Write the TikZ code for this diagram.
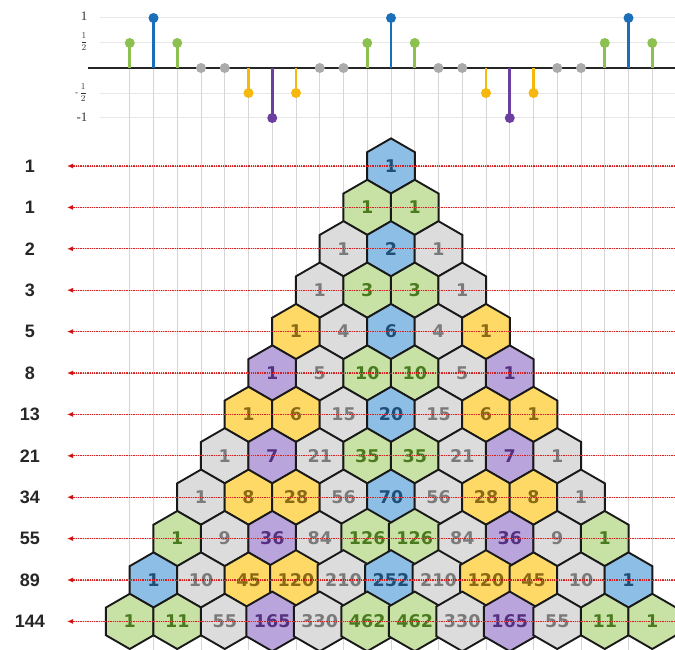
\documentclass[tikz,border=0pt]{standalone}
\usepackage{fontspec}
\setmainfont{Liberation Sans}
\newfontfamily\hexfont{DejaVu Sans}
\newfontfamily\tickfont{Liberation Serif}
\usetikzlibrary{shapes.geometric,arrows.meta}
% hex fills / texts / stem colours by index (j mod 10)
\definecolor{hf0}{HTML}{8CBEE6}\definecolor{ht0}{HTML}{1F4E79}\definecolor{sc0}{HTML}{1B6FB8}
\definecolor{hf1}{HTML}{C8E1A5}\definecolor{ht1}{HTML}{4A7A1E}\definecolor{sc1}{HTML}{8CC152}
\definecolor{hf2}{HTML}{DCDCDC}\definecolor{ht2}{HTML}{7A7A7A}\definecolor{sc2}{HTML}{ABABAB}
\definecolor{hf3}{HTML}{DCDCDC}\definecolor{ht3}{HTML}{7A7A7A}\definecolor{sc3}{HTML}{ABABAB}
\definecolor{hf4}{HTML}{FFD966}\definecolor{ht4}{HTML}{8A6A14}\definecolor{sc4}{HTML}{F6B80C}
\definecolor{hf5}{HTML}{B9A5DC}\definecolor{ht5}{HTML}{553080}\definecolor{sc5}{HTML}{6A3FA0}
\definecolor{hf6}{HTML}{FFD966}\definecolor{ht6}{HTML}{8A6A14}\definecolor{sc6}{HTML}{F6B80C}
\definecolor{hf7}{HTML}{DCDCDC}\definecolor{ht7}{HTML}{7A7A7A}\definecolor{sc7}{HTML}{ABABAB}
\definecolor{hf8}{HTML}{DCDCDC}\definecolor{ht8}{HTML}{7A7A7A}\definecolor{sc8}{HTML}{ABABAB}
\definecolor{hf9}{HTML}{C8E1A5}\definecolor{ht9}{HTML}{4A7A1E}\definecolor{sc9}{HTML}{8CC152}
\begin{document}
\begin{tikzpicture}[x=1pt,y=-1pt,
  hex/.style={regular polygon, regular polygon sides=6, shape border rotate=30,
    minimum size=55.2pt, inner sep=0pt, draw=black!90, line width=1.9pt,
    font=\hexfont\bfseries\fontsize{17.5}{17.5}\selectfont},
  fiblab/.style={font=\bfseries\fontsize{18}{18}\selectfont, text=black!85},
  redarr/.style={preaction={draw=red!45, line width=0.9pt, opacity=0.6},
    draw=red!80!black, opacity=0.8, line width=1.3pt,
    dash pattern=on 1.3pt off 1pt, -{Latex[length=6pt,width=5pt]}},
  vgrid/.style={draw=black!16, line width=0.8pt},
  hgrid/.style={draw=black!9, line width=0.8pt},
  ticklab/.style={font=\tickfont\fontsize{13}{13}\selectfont, text=black!80, inner sep=0.5pt},
  fraclab/.style={font=\fontsize{9}{9}\selectfont, text=black!80, inner sep=0.5pt}]
\useasboundingbox (0,0) rectangle (675,650);
\fill[white] (0,0) rectangle (675,650);
% grid
\foreach \y in {17,42,93,117} \draw[hgrid] (100,\y) -- (675,\y);
\foreach \j in {-11,...,11} \draw[vgrid] ({391+23.75*\j},68) -- ({391+23.75*\j},650);
% axis
\draw[line width=2.5pt, black!85] (88,68) -- (675,68);
% stems
\foreach \j in {-11,...,11} {
  \pgfmathtruncatemacro\m{mod(\j+100,10)}
  \pgfmathsetmacro\v{{1,0.5,0,0,-0.5,-1,-0.5,0,0,0.5}[\m]}
  \pgfmathsetmacro\xx{391+23.75*\j}
  \pgfmathsetmacro\yy{68-50*\v}
  \draw[line width=2.6pt, sc\m] (\xx,68) -- (\xx,\yy);
  \fill[sc\m] (\xx,\yy) circle (5pt);
}
% tick labels
\node[ticklab] (t1) at (84,16) {1};
\node[fraclab] (t2) at (84,42) {$\displaystyle\frac{1}{2}$};
\node[fraclab] (t3) at (81,93) {\tickfont-\kern1.5pt$\displaystyle\frac{1}{2}$};
\node[ticklab] (t4) at (82,117) {-1};
% hexagons
\foreach \row [count=\r from 0] in {{1},{1,1},{1,2,1},{1,3,3,1},{1,4,6,4,1},{1,5,10,10,5,1},
  {1,6,15,20,15,6,1},{1,7,21,35,35,21,7,1},{1,8,28,56,70,56,28,8,1},
  {1,9,36,84,126,126,84,36,9,1},{1,10,45,120,210,252,210,120,45,10,1},
  {1,11,55,165,330,462,462,330,165,55,11,1}} {
  \foreach \val [count=\k from 0] in \row {
    \pgfmathtruncatemacro\j{2*\k-\r}
    \pgfmathtruncatemacro\m{mod(\j+100,10)}
    \node[hex, fill=hf\m, text=ht\m] (h-\r-\k) at ({391+23.75*\j},{166+41.4*\r}) {\val};
  }
}
% labels and arrows
\foreach \lab [count=\r from 0] in {1,1,2,3,5,8,13,21,34,55,89,144} {
  \pgfmathsetmacro\yy{166+41.4*\r}
  \node[fiblab] (L\r) at (30,\yy) {\lab};
  \coordinate (A\r) at (67,\yy);
  \coordinate (R\r) at (675,\yy);
  \draw[redarr] (R\r) -- (A\r);
}
\end{tikzpicture}
\end{document}
